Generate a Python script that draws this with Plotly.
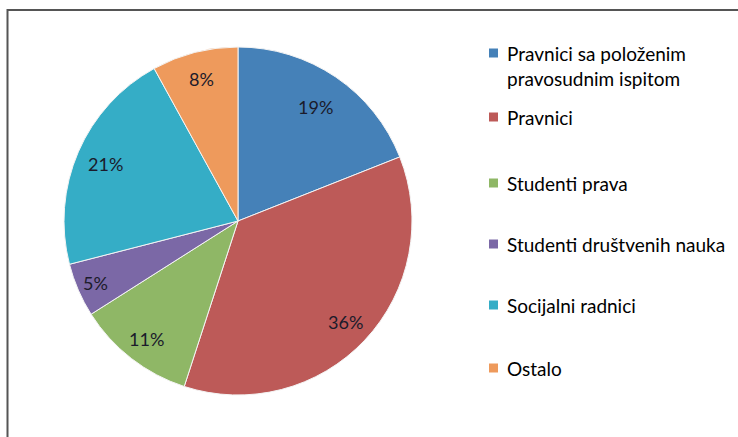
import math
import plotly.graph_objects as go

labels = ["Pravnici sa položenim pravosudnim ispitom", "Pravnici", "Studenti prava",
          "Studenti društvenih nauka", "Socijalni radnici", "Ostalo"]
values = [19, 36, 11, 5, 21, 8]
colors = ["#4581B8", "#BD5A58", "#8FB766", "#7B68A6", "#35ADC6", "#EE9A5C"]

W, H = 738, 437
CX, CY, R = 238, 221, 174  # pie centre / radius in pixels (layout)

fig = go.Figure(go.Pie(
    labels=labels, values=values, sort=False, direction="clockwise", rotation=0,
    marker=dict(colors=colors, line=dict(color="#f4f4f4", width=1)),
    textinfo="none", showlegend=False, hoverinfo="label+percent",
    domain=dict(x=[(CX - R) / W, (CX + R) / W], y=[(H - CY - R) / H, (H - CY + R) / H]),
))

annotations = []
shapes = []

# percentage labels placed along each slice's mid-angle (derived from values)
label_radius = [0.79, 0.85, 0.86, 0.89, 0.83, 0.84]
total = sum(values)
cum = 0
for v, rf in zip(values, label_radius):
    mid = (cum + v / 2) / total * 2 * math.pi
    cum += v
    px = CX + rf * R * math.sin(mid)
    py = CY - rf * R * math.cos(mid)
    annotations.append(dict(text=f"{round(v / total * 100)}%", xref="paper", yref="paper",
                            x=px / W, y=(H - py) / H, xanchor="center", yanchor="middle",
                            showarrow=False,
                            font=dict(family="Lato, Open Sans, sans-serif", size=18, color="#1b1b2b")))

# manual legend (matches reference spacing)
legend_y = [53, 117, 183, 244, 305, 368]
lfont = dict(family="Lato, Open Sans, sans-serif", size=19, color="#000")
for lab, col, yc in zip(labels, colors, legend_y):
    shapes.append(dict(type="rect", xref="paper", yref="paper",
                       x0=489 / W, x1=498 / W, y0=(H - yc - 4.5) / H, y1=(H - yc + 4.5) / H,
                       fillcolor=col, line=dict(width=0)))
    if lab.startswith("Pravnici sa"):
        annotations.append(dict(text="Pravnici sa položenim<br>pravosudnim ispitom",
                                xref="paper", yref="paper", x=505 / W,
                                y=(H - yc + 13) / H, xanchor="left", yanchor="top",
                                align="left", showarrow=False, font=lfont))
    else:
        annotations.append(dict(text=lab, xref="paper", yref="paper", x=505 / W,
                                y=(H - yc) / H, xanchor="left", yanchor="middle",
                                align="left", showarrow=False, font=lfont))

# outer border (top and left visible)
shapes.append(dict(type="rect", xref="paper", yref="paper",
                   x0=7.5 / W, x1=1.05, y0=-0.05, y1=(H - 10) / H,
                   line=dict(color="#555555", width=2), fillcolor="rgba(0,0,0,0)"))

fig.update_layout(width=W, height=H, margin=dict(l=0, r=0, t=0, b=0),
                  paper_bgcolor="white", plot_bgcolor="white",
                  shapes=shapes, annotations=annotations)

fig.write_html("out.html", config={"displayModeBar": False},
               post_script="document.body.style.margin='0';")
